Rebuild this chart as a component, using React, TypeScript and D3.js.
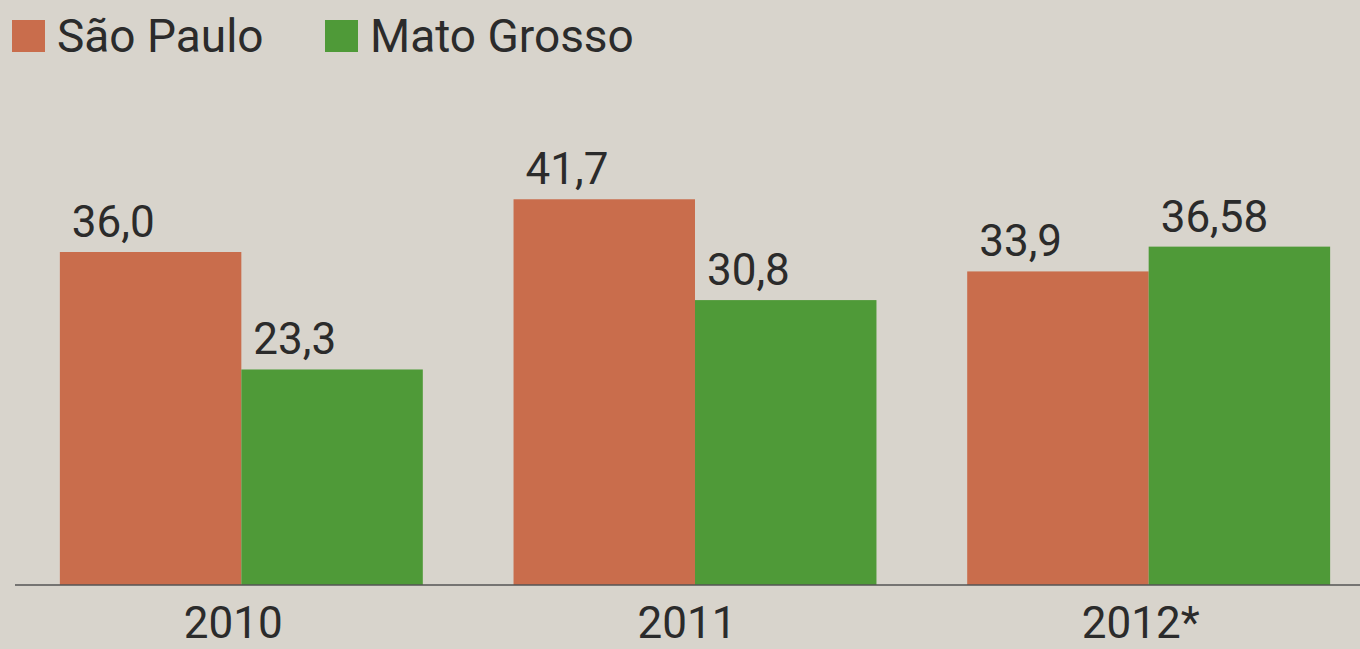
import React, { useEffect, useRef } from "react";
import * as d3 from "d3";

const years = ["2010", "2011", "2012*"];
const seriesNames = ["São Paulo", "Mato Grosso"];
const saoPaulo = [36.0, 41.7, 33.9];
const matoGrosso = [23.3, 30.8, 36.58];
const valueLabels = [
  ["36,0", "41,7", "33,9"],
  ["23,3", "30,8", "36,58"],
];
const colors = ["#c96d4c", "#4f9a38"];

export default function App() {
  const svgRef = useRef<SVGSVGElement | null>(null);

  useEffect(() => {
    const width = 1360;
    const height = 649;
    const baseline = 585;

    const svg = d3.select(svgRef.current);
    svg.selectAll("*").remove();
    svg.attr("width", width).attr("height", height);

    // paper background
    svg.append("rect")
      .attr("width", width)
      .attr("height", height)
      .attr("fill", "#d8d4cc");

    const x0 = d3.scaleBand<string>()
      .domain(years)
      .range([14.5, 1375.5])
      .paddingInner(0.2)
      .paddingOuter(0.1);

    const x1 = d3.scaleBand<string>()
      .domain(seriesNames)
      .range([0, x0.bandwidth()]);

    const y = d3.scaleLinear()
      .domain([0, 41.7])
      .range([baseline, baseline - 41.7 * 9.25]);

    const series = [saoPaulo, matoGrosso];

    const groups = svg.append("g")
      .selectAll("g")
      .data(years)
      .join("g")
      .attr("transform", d => `translate(${x0(d)},0)`);

    groups.selectAll("rect")
      .data((d, i) => series.map((s, k) => ({ name: seriesNames[k], value: s[i], k })))
      .join("rect")
      .attr("x", d => x1(d.name)!)
      .attr("y", d => y(d.value))
      .attr("width", x1.bandwidth())
      .attr("height", d => baseline - y(d.value))
      .attr("fill", d => colors[d.k]);

    groups.selectAll("text.val")
      .data((d, i) => series.map((s, k) => ({ name: seriesNames[k], value: s[i], label: valueLabels[k][i] })))
      .join("text")
      .attr("class", "val")
      .attr("x", d => x1(d.name)! + 12)
      .attr("y", d => y(d.value) - 15)
      .attr("font-family", "Roboto, sans-serif")
      .attr("font-size", 44)
      .attr("fill", "#2b2b2b")
      .text(d => d.label);

    // baseline
    svg.append("line")
      .attr("x1", 15)
      .attr("x2", width)
      .attr("y1", baseline)
      .attr("y2", baseline)
      .attr("stroke", "#555")
      .attr("stroke-width", 1.5);

    // category labels
    svg.append("g")
      .selectAll("text")
      .data(years)
      .join("text")
      .attr("x", d => x0(d)! + x0.bandwidth() / 2 - 8)
      .attr("y", 638)
      .attr("text-anchor", "middle")
      .attr("font-family", "Roboto, sans-serif")
      .attr("font-size", 44)
      .attr("fill", "#2b2b2b")
      .text(d => d);

    // legend
    const legendX = [12, 325];
    const legend = svg.append("g")
      .selectAll("g")
      .data(seriesNames)
      .join("g")
      .attr("transform", (d, i) => `translate(${legendX[i]},20)`);

    legend.append("rect")
      .attr("width", 33)
      .attr("height", 32)
      .attr("fill", (d, i) => colors[i]);

    legend.append("text")
      .attr("x", 45)
      .attr("y", 32)
      .attr("font-family", "Roboto, sans-serif")
      .attr("font-size", 46)
      .attr("fill", "#2b2b2b")
      .text(d => d);
  }, []);

  return (
    <svg
      ref={svgRef}
      style={{ position: "absolute", left: 0, top: 0, display: "block" }}
    />
  );
}
